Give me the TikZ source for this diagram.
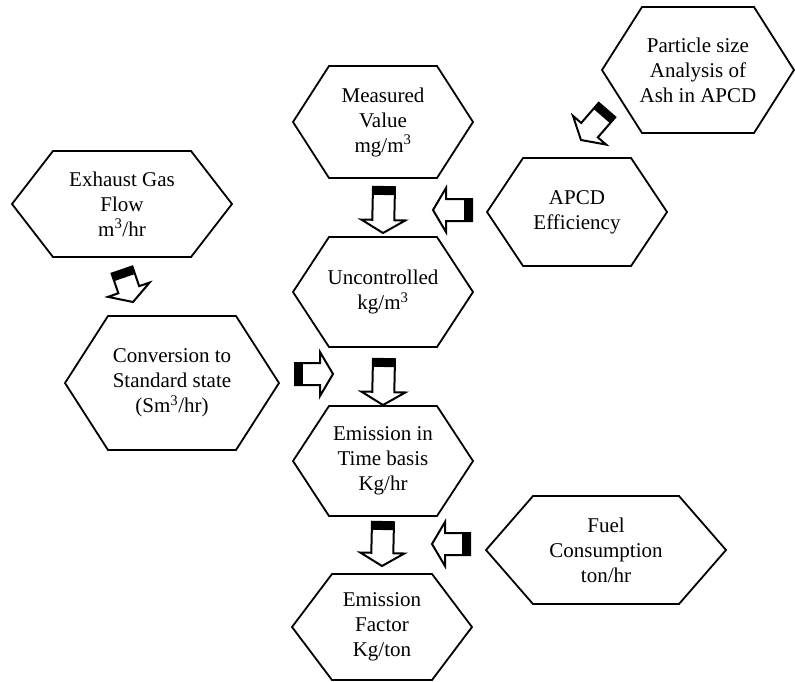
\documentclass[tikz,border=0pt]{standalone}
\usepackage{fontspec}
\setmainfont{Liberation Serif}
\usetikzlibrary{calc}
\newcommand{\hexframe}[4]{%
	\draw[hexline] ($(#1.center)+(-#2,0)$) -- ($(#1.center)+({-#2+#4},-#3)$) -- ($(#1.center)+({#2-#4},-#3)$) -- ($(#1.center)+(#2,0)$) -- ($(#1.center)+({#2-#4},#3)$) -- ($(#1.center)+({-#2+#4},#3)$) -- cycle;}
\newcommand{\blockarrow}[2]{%
	\coordinate (bb) at ($(#2)!13pt!(#1)$);
	\coordinate (bt) at ($(#1)!8pt!(#2)$);
	\draw[arrowline] ($(#1)!11pt!90:(#2)$) -- ($(bb)!11pt!90:(#2)$) -- ($(bb)!22pt!90:(#2)$) -- (#2) -- ($(bb)!22pt!-90:(#2)$) -- ($(bb)!11pt!-90:(#2)$) -- ($(#1)!11pt!-90:(#2)$) -- cycle;
	\fill ($(#1)!11pt!90:(#2)$) -- ($(bt)!11pt!90:(#2)$) -- ($(bt)!11pt!-90:(#2)$) -- ($(#1)!11pt!-90:(#2)$) -- cycle;}
\begin{document}
\begin{tikzpicture}[x=1pt,y=-1pt,
		hexline/.style={line width=1.8pt,line join=miter},
		hextext/.style={align=center,font=\fontsize{21}{25}\selectfont,inner sep=0pt},
		arrowline/.style={line width=2pt,fill=white,line join=miter}]
		\useasboundingbox (0,0) rectangle (795,681);
		\node[hextext] (exh) at (122,204) {Exhaust Gas\\Flow\\m\textsuperscript{3}/hr};
		\node[hextext] (conv) at (172,383) {Conversion to\\Standard state\\(Sm\textsuperscript{3}/hr)};
		\node[hextext] (meas) at (383,122) {Measured\\Value\\mg/m\textsuperscript{3}};
		\node[hextext] (unc) at (383,292) {Uncontrolled\\kg/m\textsuperscript{3}};
		\node[hextext] (time) at (383,461) {Emission in\\Time basis\\Kg/hr};
		\node[hextext] (fact) at (382,627) {Emission\\Factor\\Kg/ton};
		\node[hextext] (apcd) at (577,212) {APCD\\Efficiency};
		\node[hextext] (fuel) at (606,550) {Fuel\\Consumption\\ton/hr};
		\node[hextext] (part) at (698,70) {Particle size\\Analysis of\\Ash in APCD};
		\hexframe{exh}{110}{53}{41}
		\hexframe{conv}{107}{67}{43}
		\hexframe{meas}{90}{56}{36}
		\hexframe{unc}{90}{55}{36}
		\hexframe{time}{90}{55}{36}
		\hexframe{fact}{90}{53}{40}
		\hexframe{apcd}{90}{54}{36}
		\hexframe{fuel}{120}{54}{47}
		\hexframe{part}{96}{63}{40}
		\coordinate (meas-out) at (384,187);
		\coordinate (unc-in) at (383,233);
		\coordinate (apcd-out) at (472,210);
		\coordinate (unc-side) at (433,210);
		\coordinate (conv-out) at (295,374);
		\coordinate (time-side) at (333,374);
		\coordinate (unc-out) at (384,359);
		\coordinate (time-in) at (383,405);
		\coordinate (time-out) at (383,522);
		\coordinate (fact-in) at (382,566);
		\coordinate (fuel-out) at (470,544);
		\coordinate (fact-side) at (432,544);
		\coordinate (exh-out) at (122,270);
		\coordinate (conv-in) at (133,302);
		\coordinate (part-out) at (607,110);
		\coordinate (apcd-in) at (581,140);
		\blockarrow{meas-out}{unc-in}
		\blockarrow{apcd-out}{unc-side}
		\blockarrow{conv-out}{time-side}
		\blockarrow{unc-out}{time-in}
		\blockarrow{time-out}{fact-in}
		\blockarrow{fuel-out}{fact-side}
		\blockarrow{exh-out}{conv-in}
		\blockarrow{part-out}{apcd-in}
	\end{tikzpicture}
\end{document}
